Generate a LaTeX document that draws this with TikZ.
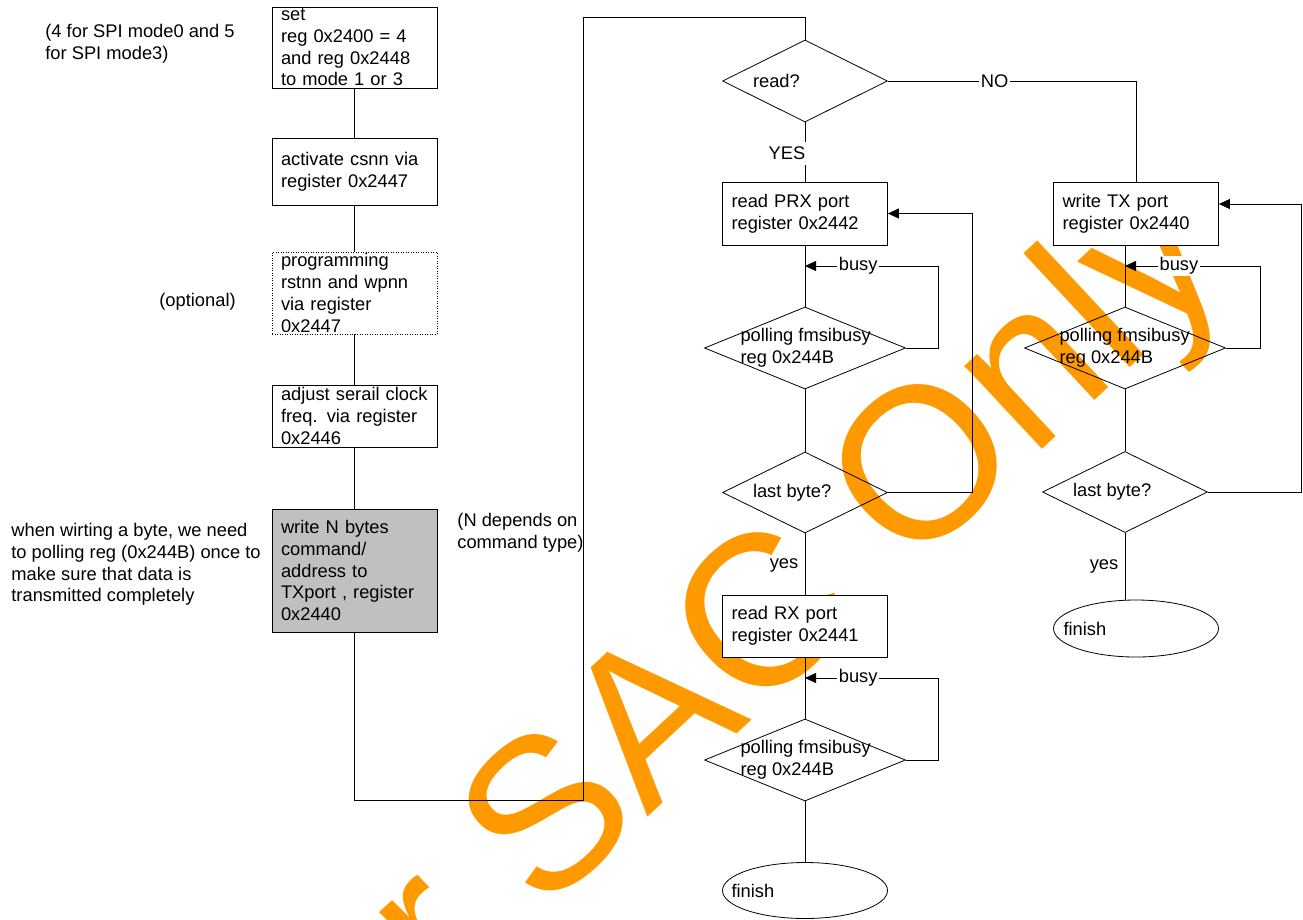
\documentclass[tikz,border=0pt]{standalone}
\usepackage{fontspec}
\setmainfont{Liberation Sans}
\usepackage{tikz}
\usetikzlibrary{positioning}
\usetikzlibrary{shapes.geometric}
\usetikzlibrary{arrows.meta}

\definecolor{naranja}{RGB}{255,153,0}
\definecolor{gris}{RGB}{192,192,192}

\begin{document}
\begin{tikzpicture}[x=1pt, y=-1pt, line width=0.8pt,
    font=\fontsize{18.3}{21.7}\selectfont,
    caja/.style={draw, rectangle, fill=white, align=left, text width=147pt,
                 inner xsep=9pt, inner ysep=0pt},
    rombo/.style={draw, diamond, inner sep=0pt, minimum width=165pt, minimum height=82pt},
    fin/.style={draw, ellipse, fill=white, inner sep=0pt, minimum width=165pt, minimum height=56pt},
    texto/.style={anchor=west, align=left, inner sep=0pt},
    etiq/.style={fill=white, inner xsep=1.5pt, inner ysep=1pt},
    flecha/.style={-{Triangle[length=11pt, width=10pt]}}]

  \useasboundingbox (0,0) rectangle (1303,919);
  \clip (0,0) rectangle (1303,919);

  % Marca de agua
  \node[text=naranja, font=\fontsize{215}{215}\selectfont, rotate=43, anchor=base] (marca) at (748,724) {For SAC Only};

  % Notas
  \node[texto] (n1) at (45,43.5) {(4 for SPI mode0 and 5\\for SPI mode3)};
  \node[texto] (n2) at (159,302) {(optional)};
  \node[texto] (n3) at (11,564.5) {when wirting a byte, we need\\to polling reg (0x244B) once to\\make sure that data is\\transmitted completely};
  \node[texto] (n4) at (457,532.5) {(N depends on\\command type)};

  % Nodos
  \node[caja, minimum height=81pt] (c1) at (354.5,47.5) {set\\reg 0x2400 = 4\\and reg 0x2448\\to mode 1 or 3};
  \node[caja, minimum height=67pt] (c2) at (354.5,171.5) {activate csnn via\\register 0x2447};
  \node[caja, minimum height=82pt, dash pattern=on 1pt off 1.5pt] (c3) at (354.5,293) {programming\\rstnn and wpnn\\via register\\0x2447};
  \node[caja, minimum height=62pt] (c4) at (354.5,416) {adjust serail clock\\freq. via register\\0x2446};
  \node[caja, minimum height=123pt, fill=gris] (c5) at (354.5,570.5) {write N bytes\\command/\\address to\\TXport , register\\0x2440};

  \node[rombo] (read) at (805,81) {};
  \node[texto] (t-read) at ([xshift=30.5pt]read.west) {read?};

  \node[caja, minimum height=63pt] (prx) at (805,213.5) {read PRX port\\register 0x2442};
  \node[rombo, minimum width=201pt] (p1) at (805,348) {};
  \node[texto] (t-p1) at ([xshift=36pt]p1.west) {polling fmsibusy\\reg 0x244B};
  \node[rombo, minimum height=81pt] (u1) at (805,492.5) {};
  \node[texto] (t-u1) at ([xshift=30.5pt]u1.west) {last byte?};
  \node[caja, minimum height=62pt] (rx) at (805,626) {read RX port\\register 0x2441};
  \node[rombo, minimum width=201pt] (p3) at (805,760) {};
  \node[texto] (t-p3) at ([xshift=36pt]p3.west) {polling fmsibusy\\reg 0x244B};
  \node[fin] (f1) at (805,890.5) {};
  \node[texto] (t-f1) at ([xshift=9pt]f1.west) {finish};

  \node[caja, minimum height=63pt] (tx) at (1136,213.5) {write TX port\\register 0x2440};
  \node[rombo, minimum width=201pt] (p2) at (1125,348) {};
  \node[texto] (t-p2) at ([xshift=35pt]p2.west) {polling fmsibusy\\reg 0x244B};
  \node[rombo, minimum height=81pt] (u2) at (1125,492) {};
  \node[texto] (t-u2) at ([xshift=30.5pt]u2.west) {last byte?};
  \node[fin, minimum height=57pt] (f2) at (1136,628.5) {};
  \node[texto] (t-f2) at ([xshift=10pt]f2.west) {finish};

  \coordinate (e1) at (583,800);
  \coordinate (e2) at (583,17);
  \coordinate (b1) at (805,266);
  \coordinate (b2) at (1125,266);
  \coordinate (b3) at (805,678);

  % Aristas
  \draw (c1.south) -- (c2.north);
  \draw (c2.south) -- (c3.north);
  \draw (c3.south) -- (c4.north);
  \draw (c4.south) -- (c5.north);
  \draw (c5.south) |- (e1) -- (e2) -| (read.north);

  \draw (read.east) -| (tx.north) node[etiq, pos=0.215] {NO};
  \draw (read.south) -- (prx.north) node[etiq, pos=0.52, xshift=-18pt, inner ysep=5pt] {YES};

  \draw (prx.south) -- (p1.north);
  \draw[flecha] (p1.east) -- ++(32,0) |- (b1) node[etiq, pos=0.8] {busy};
  \draw (p1.south) -- (u1.north);
  \draw[flecha] (u1.east) -- ++(84,0) |- (prx.east);
  \draw (u1.south) -- (rx.north) node[pos=0.52, left=3pt] {yes};
  \draw (rx.south) -- (p3.north);
  \draw[flecha] (p3.east) -- ++(32,0) |- (b3) node[etiq, pos=0.8] {busy};
  \draw (p3.south) -- (f1.north);

  \draw (tx.south -| p2.north) -- (p2.north);
  \draw[flecha] (p2.east) -- ++(34,0) |- (b2) node[etiq, pos=0.8] {busy};
  \draw (p2.south) -- (u2.north);
  \draw[flecha] (u2.east) -- ++(93,0) |- ([yshift=9.5pt]tx.east);
  \draw (u2.south) -- (u2.south |- f2.north) node[pos=0.5, left=3pt] {yes};
\end{tikzpicture}
\end{document}
